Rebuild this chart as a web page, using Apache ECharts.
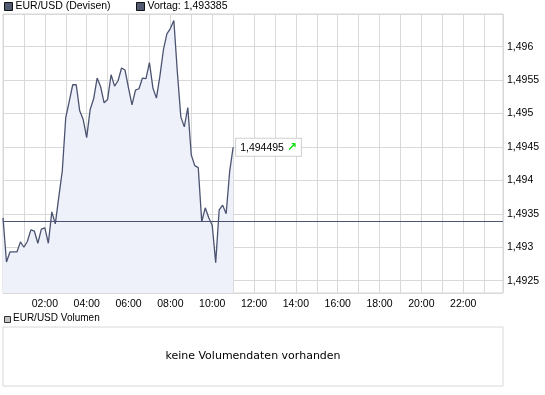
<!DOCTYPE html>
<html>
<head>
<meta charset="utf-8">
<script src="https://cdn.jsdelivr.net/npm/echarts@6/dist/echarts.min.js"></script>
<style>
  html, body { margin: 0; padding: 0; background: #fff; }
  #chart { width: 545px; height: 395px; }
</style>
</head>
<body>
<div id="chart"></div>
<script>
// EUR/USD intraday, 1 tick = 10 min, starting 00:00
const tickMinutes = 10;
const prices = [
  1.49344, 1.49278, 1.49293, 1.49293, 1.49293, 1.49308, 1.49300, 1.49309, 1.49326, 1.49324,
  1.49306, 1.49327, 1.49329, 1.49306, 1.49353, 1.49335, 1.49375, 1.49414, 1.49494, 1.49518,
  1.49543, 1.49543, 1.49504, 1.49491, 1.49464, 1.49506, 1.49522, 1.49553, 1.49540, 1.49516,
  1.49521, 1.49558, 1.49541, 1.49549, 1.49568, 1.49565, 1.49538, 1.49513, 1.49535, 1.49537,
  1.49553, 1.49552, 1.49576, 1.49538, 1.49523, 1.49556, 1.49595, 1.49619, 1.49627, 1.49639,
  1.49562, 1.49495, 1.49480, 1.49509, 1.49438, 1.49422, 1.49419, 1.49338, 1.49359, 1.49344,
  1.49333, 1.49277, 1.49356, 1.49363, 1.49350, 1.49413, 1.494495
];
const vortag = 1.493385;
const lastPrice = 1.494495;
const hourTicks = [2, 4, 6, 8, 10, 12, 14, 16, 18, 20, 22];

const seriesName = 'EUR/USD (Devisen)';
const vortagName = 'Vortag: 1,493385';
const font = 'Liberation Sans, Arial, sans-serif';

const fmtPrice = v => String(+v.toFixed(6)).replace('.', ',');
const pad = h => (h < 10 ? '0' : '') + h + ':00';

const lineData = prices.map((p, i) => [i * tickMinutes / 60, p]);

const legendBase = {
  top: 1, padding: 0, icon: 'rect', itemWidth: 8, itemHeight: 8, selectedMode: false,
  itemStyle: { color: '#525a72', borderColor: '#111', borderWidth: 1 },
  textStyle: { fontSize: 10.5, color: '#000', fontFamily: font, padding: [0, 0, 0, -2] }
};

const chart = echarts.init(document.getElementById('chart'), null, { renderer: 'canvas' });
chart.setOption({
  animation: false,
  backgroundColor: '#fff',
  textStyle: { fontFamily: font },
  legend: [
    Object.assign({}, legendBase, { data: [seriesName], left: 4 }),
    Object.assign({}, legendBase, { data: [vortagName], left: 136 })
  ],
  grid: [
    { left: 3, top: 14, width: 500, height: 279, show: true, borderColor: '#d4d4d4', borderWidth: 1, backgroundColor: '#fff' },
    { left: 3, top: 327, width: 500, height: 59, show: true, borderColor: '#d8d8d8', borderWidth: 1, backgroundColor: '#fff' }
  ],
  xAxis: [
    {
      type: 'value', gridIndex: 0, min: 0, max: 23.9, interval: 1,
      axisLine: { show: false }, axisTick: { show: false },
      splitLine: { show: true, lineStyle: { color: '#d9d9d9', width: 1 } },
      axisLabel: {
        margin: 6, fontSize: 10.5, color: '#000', fontFamily: font,
        formatter: v => (hourTicks.indexOf(v) >= 0 ? pad(v) : '')
      }
    },
    { type: 'value', gridIndex: 1, show: false, min: 0, max: 1 }
  ],
  yAxis: [
    {
      type: 'value', gridIndex: 0, position: 'right',
      min: 1.492316, max: 1.496488, splitNumber: 8,
      minInterval: 0.0005, maxInterval: 0.0005,
      axisLine: { show: false }, axisTick: { show: false },
      splitLine: { show: true, lineStyle: { color: '#d9d9d9', width: 1 } },
      axisLabel: {
        margin: 4, fontSize: 10.5, color: '#000', fontFamily: font,
        showMinLabel: false, showMaxLabel: false,
        formatter: fmtPrice
      }
    },
    { type: 'value', gridIndex: 1, show: false, min: 0, max: 1 }
  ],
  series: [
    {
      name: seriesName, type: 'line', xAxisIndex: 0, yAxisIndex: 0,
      data: lineData, showSymbol: false, symbol: 'none',
      itemStyle: { color: '#525a72' },
      lineStyle: { color: '#4b5370', width: 1.3 },
      areaStyle: { color: '#eef1fa', opacity: 1, origin: 'start' },
      endLabel: {
        show: true, distance: 3,
        formatter: () => fmtPrice(lastPrice) + ' {a|↗}',
        color: '#000', fontSize: 10.5, fontFamily: font,
        backgroundColor: '#fff', borderColor: '#cfcfcf', borderWidth: 1,
        padding: [3, 4, 2, 4],
        rich: { a: { color: '#11dd11', fontSize: 12, fontWeight: 'bold', fontFamily: 'DejaVu Sans' } }
      },
      z: 3
    },
    {
      name: vortagName, type: 'line', xAxisIndex: 0, yAxisIndex: 0,
      data: [[0, vortag], [23.9, vortag]], showSymbol: false, symbol: 'none',
      itemStyle: { color: '#525a72' },
      lineStyle: { color: '#4b5370', width: 1 },
      z: 4
    }
  ],
  graphic: [
    {
      type: 'text', left: 10, top: 281,
      style: { text: '1 Tick = 10 Min.', fill: '#9a9a9a', fontSize: 10.5, fontFamily: font }
    },
    {
      type: 'rect', shape: { x: 4.5, y: 316.5, width: 6, height: 6 },
      style: { fill: '#c4c4c4', stroke: '#333', lineWidth: 1 }
    },
    {
      type: 'text', left: 13, top: 313.5,
      style: { text: 'EUR/USD Volumen', fill: '#000', fontSize: 10, fontFamily: font }
    },
    {
      type: 'text', x: 253, y: 356,
      style: { text: 'keine Volumendaten vorhanden', fill: '#000', fontSize: 11, fontFamily: 'DejaVu Sans', align: 'center', verticalAlign: 'middle' }
    }
  ]
});
</script>
</body>
</html>
